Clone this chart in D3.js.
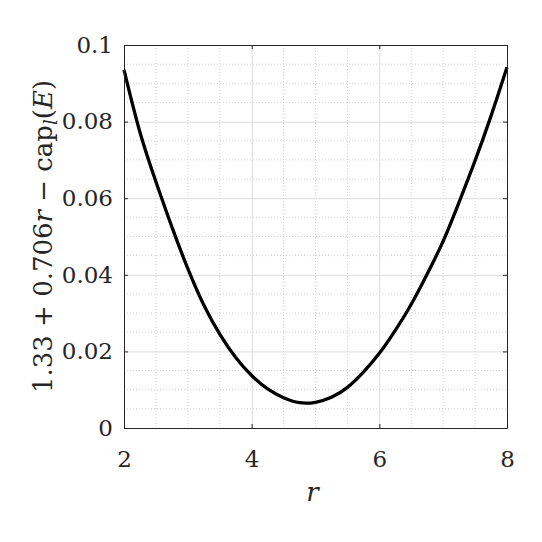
<!DOCTYPE html>
<html>
<head>
<meta charset="utf-8">
<script src="https://cdn.jsdelivr.net/npm/d3@7"></script>
<style>
  body { margin: 0; background: #fff; }
  text { font-family: "DejaVu Serif", serif; fill: #262626; }
</style>
</head>
<body>
<div id="chart"></div>
<script>
// values
var rValues = [2, 2.25, 2.5, 2.75, 3, 3.25, 3.5, 3.75, 4, 4.25, 4.5, 4.75, 5,
               5.25, 5.5, 5.75, 6, 6.25, 6.5, 6.75, 7, 7.25, 7.5, 7.75, 8];
var gapValues = [0.0935, 0.0772, 0.0643, 0.0525, 0.0416, 0.0321, 0.0245, 0.0184, 0.0137,
                 0.0102, 0.0079, 0.0066, 0.0067, 0.0080, 0.0106, 0.0146, 0.0195,
                 0.0255, 0.0323, 0.0402, 0.0488, 0.0590, 0.0698, 0.0815, 0.0942];
var xTicks = [2, 4, 6, 8];
var yTicks = [0, 0.02, 0.04, 0.06, 0.08, 0.1];
var yTickLabels = ["0", "0.02", "0.04", "0.06", "0.08", "0.1"];

var margin = {top: 45, right: 35, bottom: 114, left: 124},
    width = 542 - margin.left - margin.right,
    height = 542 - margin.top - margin.bottom;

var svg = d3.select("#chart")
  .append("svg")
    .attr("width", 542)
    .attr("height", 542)
  .append("g")
    .attr("transform", "translate(" + margin.left + "," + margin.top + ")");

var x = d3.scaleLinear().domain([2, 8]).range([0, width]);
var y = d3.scaleLinear().domain([0, 0.1]).range([height, 0]);

// minor grid (dotted)
var xMinor = d3.range(2, 8.001, 0.5).filter(function(d) { return xTicks.indexOf(d) < 0; });
var yMinor = d3.range(0, 0.1001, 0.005).filter(function(d) {
  return yTicks.every(function(t) { return Math.abs(t - d) > 1e-9; });
});

svg.append("g").selectAll("line")
  .data(xMinor)
  .enter().append("line")
    .attr("x1", function(d) { return x(d); })
    .attr("x2", function(d) { return x(d); })
    .attr("y1", 0).attr("y2", height)
    .style("stroke", "#d2d2d2")
    .style("stroke-width", 1)
    .style("stroke-dasharray", "1,2");

svg.append("g").selectAll("line")
  .data(yMinor)
  .enter().append("line")
    .attr("y1", function(d) { return y(d); })
    .attr("y2", function(d) { return y(d); })
    .attr("x1", 0).attr("x2", width)
    .style("stroke", "#d2d2d2")
    .style("stroke-width", 1)
    .style("stroke-dasharray", "1,2");

// major grid
svg.append("g")
  .call(d3.axisBottom(x).tickValues(xTicks).tickSize(height).tickFormat(""))
  .call(function(g) { g.select(".domain").remove(); })
  .selectAll("line")
    .style("stroke", "#dcdcdc");

svg.append("g")
  .call(d3.axisLeft(y).tickValues(yTicks).tickSize(-width).tickFormat(""))
  .call(function(g) { g.select(".domain").remove(); })
  .selectAll("line")
    .style("stroke", "#dcdcdc");

// the curve
var line = d3.line()
  .x(function(d, i) { return x(rValues[i]); })
  .y(function(d) { return y(d); })
  .curve(d3.curveNatural);

svg.append("path")
  .datum(gapValues)
  .attr("d", line)
  .style("fill", "none")
  .style("stroke", "#000")
  .style("stroke-width", 3.3);

// axes with inward ticks
var tickLen = 4;
var xAxis = svg.append("g")
  .attr("transform", "translate(0," + height + ")")
  .call(d3.axisBottom(x).tickValues(xTicks).tickSizeInner(-tickLen).tickSizeOuter(0).tickPadding(23)
    .tickFormat(d3.format("d")));
var xAxisTop = svg.append("g")
  .call(d3.axisTop(x).tickValues(xTicks).tickSizeInner(-tickLen).tickSizeOuter(0).tickFormat(""));
var yAxis = svg.append("g")
  .call(d3.axisLeft(y).tickValues(yTicks).tickSizeInner(-tickLen).tickSizeOuter(0).tickPadding(11)
    .tickFormat(function(d, i) { return yTickLabels[i]; }));
var yAxisRight = svg.append("g")
  .attr("transform", "translate(" + width + ",0)")
  .call(d3.axisRight(y).tickValues(yTicks).tickSizeInner(-tickLen).tickSizeOuter(0).tickFormat(""));

[xAxis, xAxisTop, yAxis, yAxisRight].forEach(function(a) {
  a.select(".domain").style("stroke", "#262626");
  a.selectAll(".tick line").style("stroke", "#262626");
  a.selectAll("text")
    .style("font-family", "'DejaVu Serif', serif")
    .style("font-size", "23px")
    .style("fill", "#262626");
});

// x label
svg.append("text")
  .attr("x", width / 2 - 3)
  .attr("y", height + 73)
  .attr("font-size", "26px")
  .attr("text-anchor", "middle")
  .style("font-style", "italic")
  .text("r");

// y label
var yl = svg.append("text")
  .attr("transform", "translate(-72," + (height / 2) + ") rotate(-90)")
  .attr("text-anchor", "middle")
  .attr("font-size", "26px");
yl.append("tspan").text("1.33 + 0.706");
yl.append("tspan").style("font-style", "italic").text("r");
yl.append("tspan").text(" \u2212 cap");
yl.append("tspan").style("font-style", "italic").attr("font-size", "18px").attr("dy", 5).text("l");
yl.append("tspan").attr("dy", -5).text("(");
yl.append("tspan").style("font-style", "italic").text("E");
yl.append("tspan").text(")");
</script>
</body>
</html>
